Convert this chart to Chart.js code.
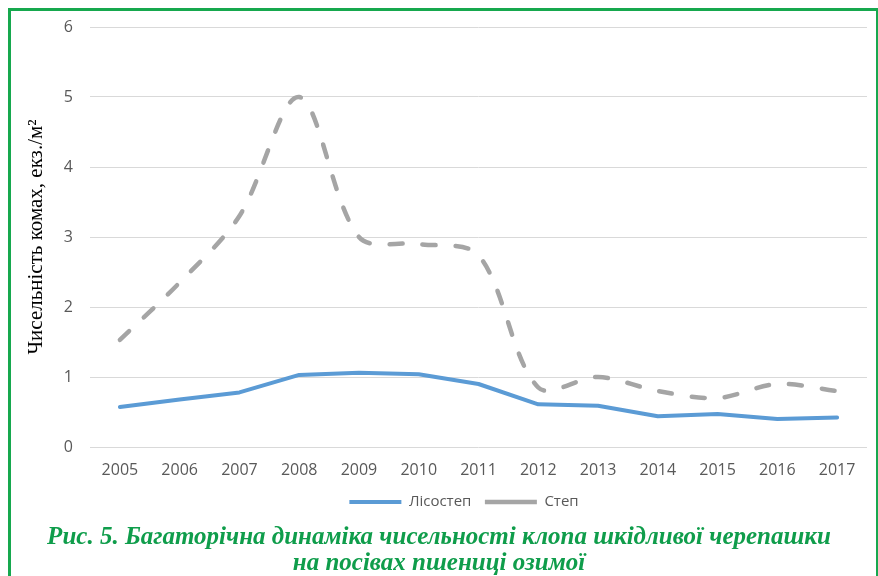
<!DOCTYPE html>
<html>
<head>
<meta charset="utf-8">
<script src="https://cdn.jsdelivr.net/npm/chart.js@4"></script>
<style>
  html, body { margin: 0; padding: 0; background: #fff; overflow: hidden; }
  #wrap { position: relative; width: 878px; height: 576px; }
  #frame { position: absolute; left: 8px; top: 8px; width: 870px; height: 600px; box-sizing: border-box;
           border-left: 3px solid #16a84e; border-top: 3px solid #16a84e; border-right: 2px solid #16a84e; }
  #cv { position: absolute; left: 0; top: 0; }
  #caption { position: absolute; left: 0; top: 523px; width: 878px; text-align: center;
             font-family: "Liberation Serif", serif; font-weight: bold; font-style: italic;
             font-size: 25px; line-height: 26px; color: #0f9d4b; }
</style>
</head>
<body>
<div id="wrap">
  <canvas id="cv" width="878" height="576"></canvas>
  <div id="frame"></div>
  <div id="caption">Рис. 5. Багаторічна динаміка чисельності клопа шкідливої черепашки<br>на посівах пшениці озимої</div>
</div>
<script>
const years = ['2005','2006','2007','2008','2009','2010','2011','2012','2013','2014','2015','2016','2017'];
const lisostep = [0.57, 0.68, 0.78, 1.03, 1.06, 1.04, 0.90, 0.61, 0.59, 0.44, 0.47, 0.40, 0.42];
const step = [1.53, 2.35, 3.30, 5.00, 3.00, 2.90, 2.74, 0.85, 1.00, 0.80, 0.70, 0.90, 0.80];
const seriesNames = ['Лісостеп', 'Степ'];
const yTitle = 'Чисельність комах, екз./м²';
const yMin = 0, yMax = 6, yStep = 1;

const tickColor = '#595959';
const tickFont = { family: 'Open Sans', size: 16 };

new Chart(document.getElementById('cv'), {
  type: 'line',
  data: {
    labels: years,
    datasets: [
      {
        label: seriesNames[0], data: lisostep,
        borderColor: '#5b9bd5', backgroundColor: '#5b9bd5',
        borderWidth: 4, pointRadius: 0, tension: 0,
        borderCapStyle: 'round', borderJoinStyle: 'round'
      },
      {
        label: seriesNames[1], data: step,
        borderColor: '#a5a5a5', backgroundColor: '#a5a5a5',
        borderWidth: 4.5, pointRadius: 0, tension: 0.32,
        borderDash: [13, 20], borderCapStyle: 'round', borderJoinStyle: 'round'
      }
    ]
  },
  options: {
    responsive: false,
    animation: false,
    layout: { padding: { left: 61, right: 11, top: 27, bottom: 56.5 } },
    plugins: {
      legend: {
        position: 'bottom',
        labels: {
          usePointStyle: true, pointStyle: 'line', pointStyleWidth: 52,
          padding: 13.5, color: tickColor, font: { family: 'Open Sans', size: 15 }
        }
      },
      tooltip: { enabled: false }
    },
    scales: {
      x: {
        offset: true,
        grid: { display: false, drawTicks: true, tickLength: 12 },
        border: { display: false },
        ticks: { color: tickColor, font: { family: 'Open Sans', size: 16, lineHeight: 1.375 }, padding: 0, maxRotation: 0, autoSkip: false }
      },
      y: {
        min: yMin, max: yMax,
        ticks: { stepSize: yStep, color: tickColor, font: tickFont, padding: 17 },
        grid: { color: '#d9d9d9', lineWidth: 1, drawTicks: false },
        border: { display: false },
        title: {
          display: true, text: yTitle, color: '#000',
          font: { family: 'Liberation Serif', size: 21 },
          padding: { top: -37, bottom: 0 }
        },
        afterFit: (s) => { s.width = 29; }
      }
    }
  }
});
</script>
</body>
</html>
